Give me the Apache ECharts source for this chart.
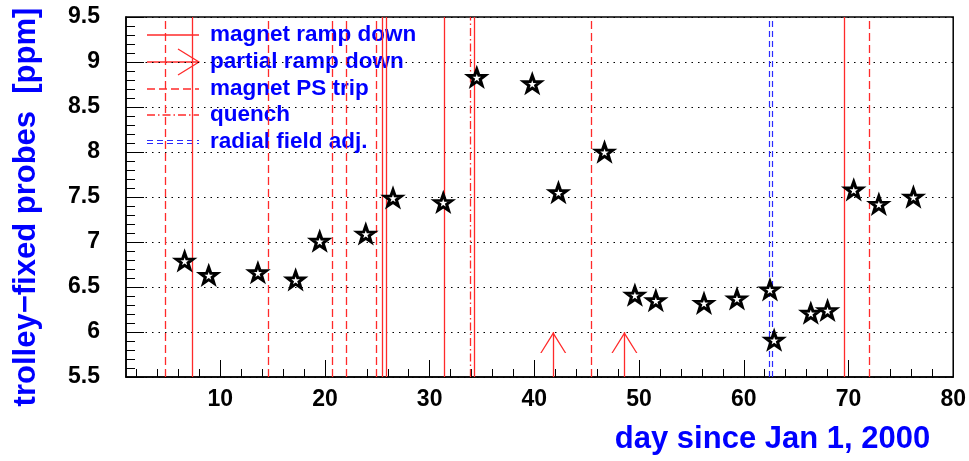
<!DOCTYPE html>
<html>
<head>
<meta charset="utf-8">
<script src="https://cdn.jsdelivr.net/npm/echarts@6/dist/echarts.min.js"></script>
<style>
    html, body { margin: 0; padding: 0; background: #fff; }
    #chart { width: 969px; height: 461px; }
</style>
</head>
<body>
<div id="chart"></div>
<script>
// measurement days and trolley - fixed probe difference (ppm)
const days = [6.6, 8.9, 13.6, 17.2, 19.5, 23.9, 26.5, 31.3, 34.5, 39.8, 42.3, 46.7,
    49.6, 51.6, 56.2, 59.35, 62.5, 62.9, 66.4, 68.0, 70.5, 72.9, 76.2]
const ppm = [6.79, 6.63, 6.66, 6.58, 7.01, 7.09, 7.49, 7.44, 8.83, 8.76, 7.55, 8.0,
    6.41, 6.35, 6.32, 6.37, 6.47, 5.91, 6.21, 6.24, 7.58, 7.42, 7.50]

// magnet events (day)
const rampDown = [7.3, 25.5, 25.9, 31.4, 34.3, 69.6]
const partialRampDown = [41.8, 48.6]
const psTrip = [4.75, 14.55, 20.7, 22.0, 24.9, 45.4, 71.95]
const quench = [33.9]
const radialAdj = [62.45, 62.75]

// axis ticks
const xMajorTicks = [10, 20, 30, 40, 50, 60, 70, 80]
const xMinorTicks = [2, 4, 6, 8, 12, 14, 16, 18, 22, 24, 26, 28, 32, 34, 36, 38, 42, 44, 46, 48,
    52, 54, 56, 58, 62, 64, 66, 68, 72, 74, 76, 78]

const legendItems = ['magnet ramp down', 'partial ramp down', 'magnet PS trip', 'quench', 'radial field adj.']

const FONT = '"Liberation Sans", Arial, Helvetica, sans-serif'
const RED = '#ff2a2a'
const BLUE = '#2a2aff'

// open star marker
const starPath = (() => {
    const pts = []
    for (let i = 0; i < 10; i++) {
        const a = -Math.PI / 2 + i * Math.PI / 5
        const r = i % 2 ? 4.0 : 10
        pts.push((r * Math.cos(a)).toFixed(2) + ',' + (r * Math.sin(a)).toFixed(2))
    }
    return 'path://M' + pts.join(' L') + ' Z'
})()

// open "V" arrow head, tip at symbol centre
const arrowHead = 'path://M13,-21 L13.01,-21 Z M0,21 L13,0 L26,21 L24.6,21 L13,2.4 L1.4,21 Z'

const vLines = (name, values, lineStyle) => ({
    name,
    type: 'line',
    data: [],
    silent: true,
    z: 2,
    markLine: {
        silent: true,
        animation: false,
        symbol: ['none', 'none'],
        label: { show: false },
        lineStyle,
        data: values.map(v => ({ xAxis: v }))
    }
})

const chart = echarts.init(document.getElementById('chart'))

// legend drawn by hand, the symbols are not standard legend icons
const legendGraphics = []
const rowY = [35, 62, 89, 115, 142]
const lx0 = 147, lx1 = 199
legendItems.forEach((t, i) => {
    legendGraphics.push({
        type: 'text', left: 210, top: rowY[i] - 12,
        style: { text: t, fill: '#0000ff', font: 'bold 22.5px ' + FONT }
    })
})
legendGraphics.push(
    { type: 'line', shape: { x1: lx0, y1: rowY[0], x2: lx1, y2: rowY[0] }, style: { stroke: RED, lineWidth: 1.3 } },
    { type: 'line', shape: { x1: lx0, y1: rowY[1], x2: lx1, y2: rowY[1] }, style: { stroke: RED, lineWidth: 1.3 } },
    { type: 'polyline', shape: { points: [[lx1 - 21, rowY[1] - 13], [lx1, rowY[1]], [lx1 - 21, rowY[1] + 13]] }, style: { stroke: RED, lineWidth: 1.3, fill: null } },
    { type: 'line', shape: { x1: lx0, y1: rowY[2], x2: lx1, y2: rowY[2] }, style: { stroke: RED, lineWidth: 1.3, lineDash: [8, 4] } },
    { type: 'line', shape: { x1: lx0, y1: rowY[3], x2: lx1, y2: rowY[3] }, style: { stroke: RED, lineWidth: 1.3, lineDash: [8, 3, 1.5, 3] } },
    { type: 'line', shape: { x1: lx0, y1: rowY[4] - 1.5, x2: lx1, y2: rowY[4] - 1.5 }, style: { stroke: BLUE, lineWidth: 1.2, lineDash: [6, 4] } },
    { type: 'line', shape: { x1: lx0, y1: rowY[4] + 1.5, x2: lx1, y2: rowY[4] + 1.5 }, style: { stroke: BLUE, lineWidth: 1.2, lineDash: [6, 4] } }
)

const option = {
    backgroundColor: '#ffffff',
    animation: false,
    grid: {
        left: 126, right: 14, top: 17, bottom: 84,
        show: true, borderColor: '#000', borderWidth: 1.5
    },
    xAxis: [
        {
            type: 'value',
            min: 1,
            max: 80,
            name: 'day since Jan 1, 2000',
            nameLocation: 'end',
            nameGap: -23,
            nameTextStyle: {
                color: '#0000ff', fontFamily: FONT, fontWeight: 'bold', fontSize: 31,
                align: 'right', verticalAlign: 'top', padding: [47, 0, 0, 0]
            },
            axisLine: { lineStyle: { color: '#000', width: 1.5 } },
            axisTick: { customValues: xMajorTicks, inside: true, length: 17, lineStyle: { color: '#000' } },
            axisLabel: {
                customValues: xMajorTicks, color: '#000', fontFamily: FONT,
                fontWeight: 'bold', fontSize: 23, margin: 11
            },
            splitLine: { show: false }
        },
        {
            type: 'value',
            min: 1,
            max: 80,
            position: 'bottom',
            axisLine: { show: false },
            axisTick: { customValues: xMinorTicks, inside: true, length: 8, lineStyle: { color: '#000' } },
            axisLabel: { show: false },
            splitLine: { show: false }
        }
    ],
    yAxis: {
        type: 'value',
        min: 5.5,
        max: 9.5,
        interval: 0.5,
        name: 'trolley\u2212fixed probes  [ppm]',
        nameLocation: 'middle',
        nameGap: 84,
        nameTextStyle: {
            color: '#0000ff', fontFamily: FONT, fontWeight: 'bold', fontSize: 31,
            padding: [0, 20, 0, 0]
        },
        axisLine: { show: true, lineStyle: { color: '#000', width: 1.5 } },
        axisTick: { inside: true, length: 18, lineStyle: { color: '#000' } },
        minorTick: { show: true, splitNumber: 5, length: 9, lineStyle: { color: '#000' } },
        axisLabel: {
            color: '#000', fontFamily: FONT, fontWeight: 'bold', fontSize: 23, margin: 26,
            formatter: v => String(Math.round(v * 10) / 10)
        },
        splitLine: { show: true, lineStyle: { color: '#000', type: [1.5, 5], width: 1.2 } }
    },
    graphic: legendGraphics,
    series: [
        vLines('magnet ramp down', rampDown, { color: RED, width: 1.3, type: 'solid' }),
        vLines('magnet PS trip', psTrip, { color: RED, width: 1.3, type: [8, 4] }),
        vLines('quench', quench, { color: RED, width: 1.3, type: [8, 3, 1.5, 3] }),
        vLines('radial field adj.', radialAdj, { color: BLUE, width: 1.2, type: [6, 4] }),
        {
            name: 'partial ramp down',
            type: 'line',
            data: [],
            silent: true,
            z: 2,
            markLine: {
                silent: true,
                animation: false,
                symbol: ['none', arrowHead],
                symbolSize: [26, 42],
                label: { show: false },
                lineStyle: { color: RED, width: 1.3, type: 'solid' },
                data: partialRampDown.map(v => [{ coord: [v, 5.5] }, { coord: [v, 6.0] }])
            }
        },
        {
            name: 'trolley-fixed',
            type: 'scatter',
            z: 5,
            symbol: starPath,
            symbolSize: [17, 16],
            itemStyle: { color: '#ffffff', borderColor: '#000', borderWidth: 3, opacity: 1 },
            data: days.map((d, i) => [d, ppm[i]])
        }
    ]
}

chart.setOption(option)
</script>
</body>
</html>
